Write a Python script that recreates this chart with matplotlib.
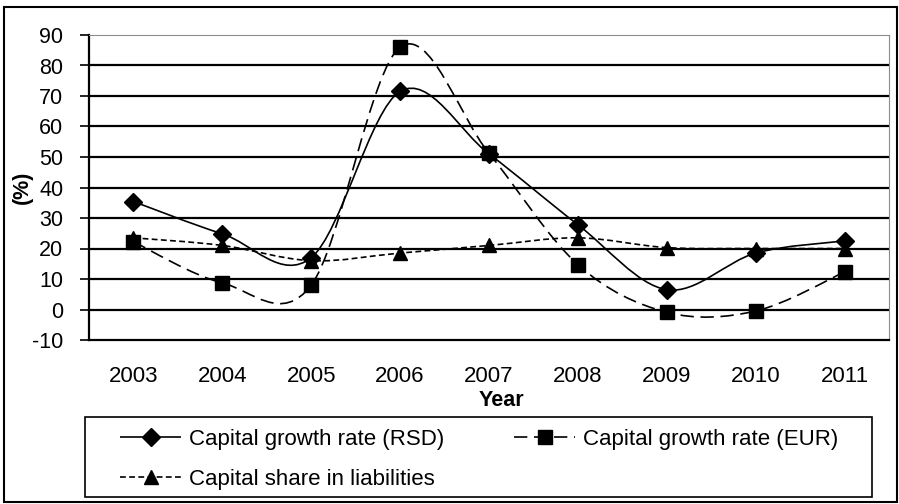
import matplotlib.pyplot as plt
import numpy as np
from matplotlib.path import Path
from matplotlib.patches import PathPatch, Rectangle
from matplotlib.lines import Line2D

plt.rcParams["font.family"] = ["Liberation Sans", "DejaVu Sans"]
plt.rcParams["axes.unicode_minus"] = False

years = ["2003", "2004", "2005", "2006", "2007", "2008", "2009", "2010", "2011"]
growth_rsd = [35.4, 24.8, 17.0, 71.5, 51.0, 27.8, 6.5, 18.5, 22.5]
growth_eur = [22.2, 8.7, 8.0, 86.0, 51.2, 14.7, -0.9, -0.5, 12.3]
capital_share = [23.5, 21.0, 16.0, 18.5, 21.0, 23.5, 20.3, 20.0, 20.0]


def smooth_path(x, y):
    # excel-like smoothed line: cubic bezier through every point
    pts = np.column_stack([x, y]).astype(float)
    ext = np.vstack([pts[0], pts, pts[-1]])
    verts = [pts[0]]
    codes = [Path.MOVETO]
    for i in range(len(pts) - 1):
        p0, p1, p2, p3 = ext[i], ext[i + 1], ext[i + 2], ext[i + 3]
        verts += [p1 + (p2 - p0) / 6, p2 - (p3 - p1) / 6, p2]
        codes += [Path.CURVE4] * 3
    return Path(verts, codes)


W, H = 899, 504
fig = plt.figure(figsize=(W / 100, H / 100), dpi=100)
ax = fig.add_axes([89 / W, 1 - 340 / H, 800 / W, 305 / H])

xs = np.arange(len(years))
series = [
    (growth_rsd, "Capital growth rate (RSD)", "D", (0, ()), 9),
    (growth_eur, "Capital growth rate (EUR)", "s", (0, (8, 4)), 10),
    (capital_share, "Capital share in liabilities", "^", (0, (3.5, 2)), 10),
]
handles = []
for vals, label, mk, ls, ms in series:
    patch = PathPatch(smooth_path(xs, vals), facecolor="none", edgecolor="black",
                      linewidth=1.2, linestyle=ls, zorder=3)
    ax.add_patch(patch)
    ax.plot(xs, vals, linestyle="none", marker=mk, markersize=ms, color="black", zorder=4)
    handles.append(Line2D([], [], color="black", linestyle=ls, linewidth=1.2,
                          marker=mk, markersize=ms, label=label))

ax.set_xlim(-0.5, len(years) - 0.5)
ax.set_ylim(-10, 90)
ax.set_yticks(range(-10, 100, 10))
ax.set_xticks(xs)
ax.set_xticklabels(years)
for y in range(0, 90, 10):
    ax.axhline(y, color="black", linewidth=1.6, zorder=1)

ax.spines["top"].set_color("#8c8c8c")
ax.spines["right"].set_color("#8c8c8c")
ax.spines["left"].set_linewidth(1.6)
ax.spines["bottom"].set_linewidth(1.6)
ax.tick_params(axis="y", length=6.5, width=1.2, direction="out", labelsize=15.5, pad=12)
ax.tick_params(axis="x", length=0, labelsize=16, pad=19)

ax.set_xlabel("Year", fontsize=15.5, fontweight="bold")
ax.xaxis.set_label_coords((501 - 89) / 800, -(401 - 340) / 305)
ax.xaxis.label.set_va("center")
ax.set_ylabel("(%)", fontsize=15.5, fontweight="bold")
ax.yaxis.set_label_coords(-(89 - 22) / 800, 0.5)
ax.yaxis.label.set_va("center")

# legend box drawn separately (wider side padding than top/bottom)
fig.patches.append(Rectangle((85 / W, 1 - 497 / H), 787 / W, 80 / H,
                             transform=fig.transFigure, fill=False,
                             edgecolor="black", linewidth=1.2))
order = [handles[0], handles[2], handles[1]]
fig.legend(handles=order, loc="upper left", bbox_to_anchor=(120 / W, 1 - 429 / H),
           ncol=2, fontsize=16, frameon=False, handlelength=2.75,
           handletextpad=0.36, borderpad=0, borderaxespad=0,
           labelspacing=0.85, columnspacing=3.15)

fig.patches.append(Rectangle((4 / W, 2 / H), 893 / W, 495 / H,
                             transform=fig.transFigure, fill=False,
                             edgecolor="black", linewidth=1.5))

fig.savefig("out.png", dpi=100)
